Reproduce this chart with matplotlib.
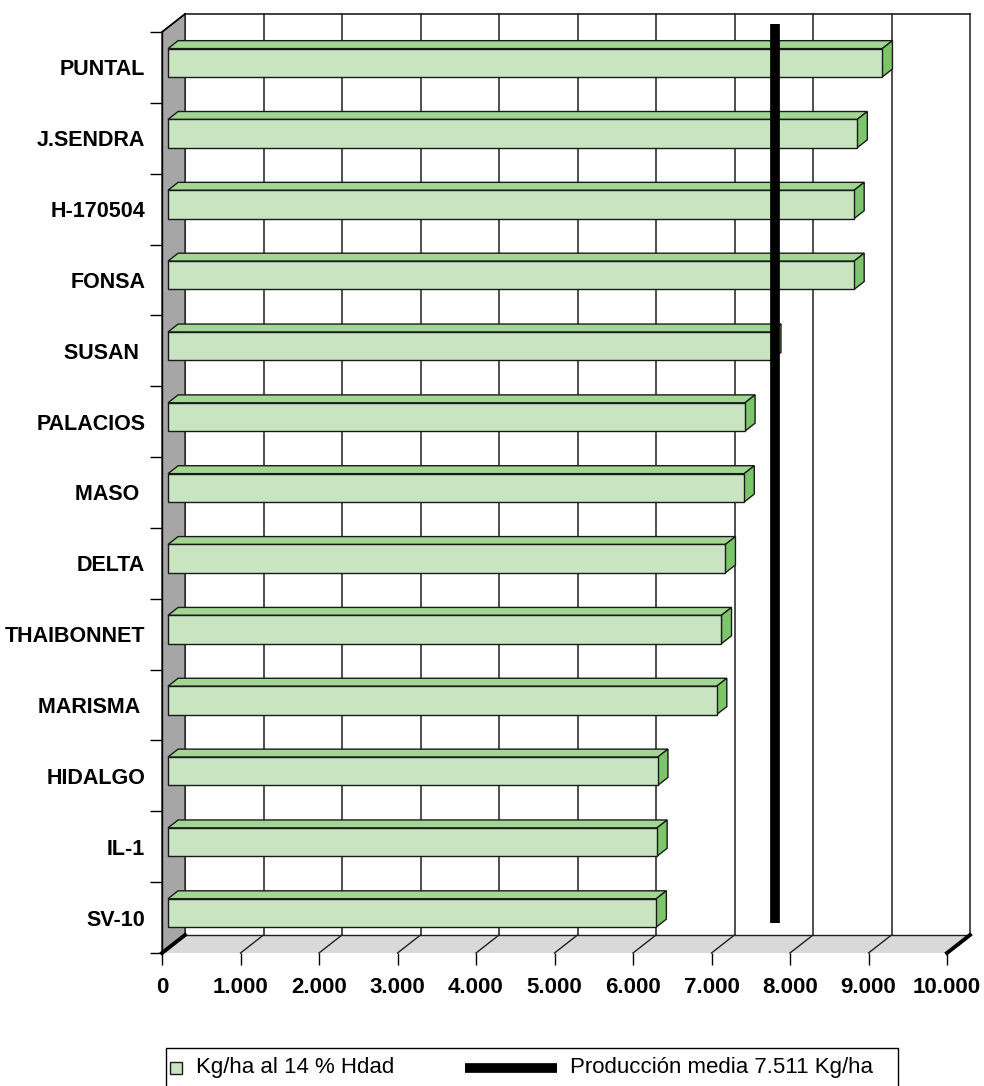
import matplotlib
matplotlib.use("Agg")
import matplotlib.pyplot as plt
from matplotlib.patches import Polygon, Rectangle
from matplotlib.lines import Line2D
from matplotlib.ticker import FuncFormatter, FixedLocator

plt.rcParams["font.family"] = ["Liberation Sans", "DejaVu Sans"]

# ---- data -------------------------------------------------------------
variedades = ["PUNTAL", "J.SENDRA", "H-170504", "FONSA", "SUSAN ", "PALACIOS",
              "MASO ", "DELTA", "THAIBONNET", "MARISMA ", "HIDALGO", "IL-1", "SV-10"]
produccion = [9100, 8780, 8740, 8740, 7680, 7350, 7340, 7100, 7050, 6990,
              6240, 6230, 6220]
media = 7511
x_ticks = [0, 1000, 2000, 3000, 4000, 5000, 6000, 7000, 8000, 9000, 10000]


def miles(v, pos=None):
    return f"{int(round(v)):,}".replace(",", ".")


serie_label = "Kg/ha al 14 % Hdad"
media_label = f"Producción media {miles(media)} Kg/ha"

# ---- figure -----------------------------------------------------------
W, H = 984, 1086
fig = plt.figure(figsize=(W / 100, H / 100), dpi=100)
ax = fig.add_axes([162 / W, (H - 953) / H, 785 / W, 921 / H])
n = len(variedades)
xmax = x_ticks[-1]
ax.set_xlim(0, xmax)
ax.set_ylim(-0.5, n - 0.5)
ax.patch.set_visible(False)

# depth offset of the back plane (pixels -> data units)
px_x = ax.bbox.width / xmax
px_y = ax.bbox.height / n
DX = 23 / px_x
DY = 18 / px_y


def P(x, y, d):
    return (x + d * DX, y + d * DY)


def poly(pts, **kw):
    p = Polygon(pts, closed=True, clip_on=False, **kw)
    ax.add_patch(p)
    return p


def seg(a, b, **kw):
    ln = Line2D([a[0], b[0]], [a[1], b[1]], clip_on=False, **kw)
    ax.add_line(ln)
    return ln


y_lo, y_hi = -0.5, n - 0.5

# back wall grid
for t in x_ticks:
    seg(P(t, y_lo, 1), P(t, y_hi, 1), color="#303030", lw=1.2, zorder=1.5)
seg(P(0, y_hi, 1), P(xmax, y_hi, 1), color="#202020", lw=1.2, zorder=1.5)

# floor
poly([P(0, y_lo, 0), P(xmax, y_lo, 0), P(xmax, y_lo, 1), P(0, y_lo, 1)],
     facecolor="#d9d9d9", edgecolor="none", zorder=1)
for t in x_ticks:
    seg(P(t, y_lo, 0), P(t, y_lo, 1), color="#202020", lw=1.0, zorder=1.6)
seg(P(0, y_lo, 1), P(xmax, y_lo, 1), color="#202020", lw=1.0, zorder=1.6)
seg(P(xmax, y_lo, 0), P(xmax, y_lo, 1), color="black", lw=2.8, zorder=1.7)

# left wall
poly([P(0, y_lo, 0), P(0, y_hi, 0), P(0, y_hi, 1), P(0, y_lo, 1)],
     facecolor="#a6a6a6", edgecolor="#202020", lw=1.0, zorder=2)
seg(P(0, y_lo, 0), P(0, y_lo, 1), color="black", lw=2.8, zorder=2.1)
seg(P(0, y_hi, 0), P(0, y_hi, 1), color="black", lw=1.2, zorder=2.1)

# 3D bars
d0, d1, hb = 0.26, 0.70, 0.40
c_front, c_top, c_side = "#c8e4c1", "#a2d693", "#7cc56a"
for i, v in enumerate(produccion):
    c = n - 1 - i
    b, t = c - hb / 2, c + hb / 2
    edge = dict(edgecolor="#1a1a1a", lw=1.0, zorder=3)
    poly([P(0, t, d0), P(v, t, d0), P(v, t, d1), P(0, t, d1)], facecolor=c_top, **edge)
    poly([P(v, b, d0), P(v, t, d0), P(v, t, d1), P(v, b, d1)], facecolor=c_side, **edge)
    poly([P(0, b, d0), P(v, b, d0), P(v, t, d0), P(0, t, d0)], facecolor=c_front, **edge)

# mean production line on the back plane
seg(P(media, y_lo + 0.17, 1), P(media, y_hi - 0.14, 1), color="black", lw=7,
    solid_capstyle="butt", zorder=4)

# ---- axes decoration ----------------------------------------------------
for s in ("top", "right", "bottom"):
    ax.spines[s].set_visible(False)
ax.spines["left"].set_color("black")
ax.spines["left"].set_linewidth(1.0)
ax.spines["left"].set_zorder(2.5)

ax.set_xticks(x_ticks)
ax.xaxis.set_major_formatter(FuncFormatter(miles))
ax.tick_params(axis="x", length=8.6, width=1.0, color="black", pad=9,
               labelsize=16)
for lb in ax.get_xticklabels():
    lb.set_fontweight("bold")

ax.set_yticks(range(n))
ax.set_yticklabels(variedades[::-1], fontsize=15.5, fontweight="bold")
ax.yaxis.set_minor_locator(FixedLocator([k - 0.5 for k in range(n + 1)]))
ax.tick_params(axis="y", which="major", length=0, pad=12)
ax.tick_params(axis="y", which="minor", length=8.6, width=1.0, color="black")
for lb in ax.get_yticklabels():
    lb.set_y(lb.get_position()[1])

# ---- legend -------------------------------------------------------------
def fx(px):
    return px / W


def fy(py):
    return 1 - py / H


fig.add_artist(Rectangle((fx(166), fy(1100)), fx(898) - fx(166), fy(1048) - fy(1100),
                         transform=fig.transFigure, facecolor="white",
                         edgecolor="black", lw=1.0, clip_on=False))
fig.add_artist(Rectangle((fx(170), fy(1074)), fx(182) - fx(170), fy(1062) - fy(1074),
                         transform=fig.transFigure, facecolor=c_front,
                         edgecolor="#1a1a1a", lw=1.0))
fig.text(fx(196), fy(1068), serie_label, fontsize=16, va="center", ha="left")
fig.add_artist(Line2D([fx(465), fx(557)], [fy(1068), fy(1068)], transform=fig.transFigure,
                      color="black", lw=7, solid_capstyle="butt"))
fig.text(fx(570), fy(1068), media_label, fontsize=16, va="center", ha="left")

fig.savefig("out.png", dpi=100)
